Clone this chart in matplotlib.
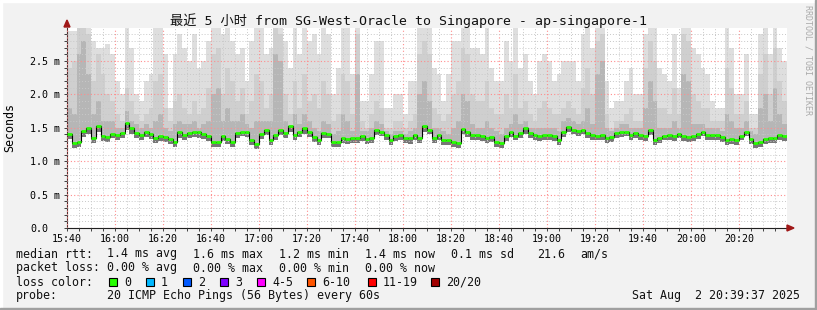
import numpy as np
import matplotlib
matplotlib.use("Agg")
import matplotlib.pyplot as plt
from matplotlib.patches import Rectangle, Polygon

# ---- data (ms), one value per 2-minute step starting 15:40 ----
step_min = 2
median = [1.41, 1.27, 1.28, 1.45, 1.50, 1.34, 1.53, 1.37, 1.36, 1.41,
          1.39, 1.42, 1.57, 1.49, 1.42, 1.39, 1.43, 1.41, 1.34, 1.37,
          1.36, 1.33, 1.29, 1.43, 1.39, 1.42, 1.43, 1.43, 1.40, 1.37,
          1.29, 1.29, 1.37, 1.33, 1.29, 1.42, 1.44, 1.44, 1.32, 1.26,
          1.41, 1.47, 1.32, 1.39, 1.47, 1.42, 1.52, 1.39, 1.43, 1.49,
          1.43, 1.36, 1.32, 1.42, 1.41, 1.29, 1.29, 1.34, 1.33, 1.34,
          1.34, 1.37, 1.33, 1.34, 1.47, 1.44, 1.39, 1.31, 1.37, 1.39,
          1.34, 1.34, 1.39, 1.34, 1.53, 1.47, 1.34, 1.39, 1.32, 1.31,
          1.29, 1.27, 1.48, 1.43, 1.39, 1.39, 1.37, 1.34, 1.36, 1.29,
          1.27, 1.37, 1.43, 1.38, 1.42, 1.49, 1.42, 1.39, 1.37, 1.39,
          1.39, 1.37, 1.32, 1.44, 1.51, 1.47, 1.45, 1.47, 1.42, 1.39,
          1.38, 1.39, 1.34, 1.36, 1.42, 1.43, 1.44, 1.39, 1.42, 1.39,
          1.37, 1.47, 1.32, 1.34, 1.38, 1.39, 1.37, 1.41, 1.37, 1.36,
          1.37, 1.40, 1.44, 1.39, 1.39, 1.39, 1.36, 1.32, 1.33, 1.32,
          1.38, 1.44, 1.33, 1.27, 1.28, 1.33, 1.34, 1.34, 1.39, 1.37]

smoke_lo = [1.33, 1.20, 1.21, 1.36, 1.40, 1.27, 1.44, 1.30, 1.29, 1.34,
            1.32, 1.34, 1.47, 1.41, 1.35, 1.32, 1.36, 1.33, 1.27, 1.30,
            1.29, 1.26, 1.22, 1.35, 1.32, 1.35, 1.36, 1.35, 1.33, 1.30,
            1.21, 1.22, 1.30, 1.26, 1.22, 1.34, 1.37, 1.36, 1.24, 1.19,
            1.33, 1.39, 1.25, 1.32, 1.39, 1.35, 1.44, 1.32, 1.36, 1.41,
            1.36, 1.29, 1.25, 1.34, 1.34, 1.22, 1.21, 1.27, 1.26, 1.27,
            1.27, 1.30, 1.26, 1.27, 1.39, 1.37, 1.32, 1.24, 1.30, 1.32,
            1.27, 1.26, 1.32, 1.27, 1.44, 1.40, 1.27, 1.32, 1.25, 1.24,
            1.22, 1.20, 1.40, 1.36, 1.32, 1.32, 1.30, 1.27, 1.29, 1.21,
            1.20, 1.30, 1.36, 1.31, 1.35, 1.41, 1.35, 1.32, 1.30, 1.32,
            1.32, 1.30, 1.25, 1.36, 1.43, 1.40, 1.38, 1.40, 1.35, 1.32,
            1.31, 1.32, 1.27, 1.29, 1.35, 1.36, 1.37, 1.32, 1.35, 1.32,
            1.30, 1.39, 1.25, 1.27, 1.31, 1.32, 1.30, 1.34, 1.30, 1.29,
            1.30, 1.33, 1.37, 1.32, 1.32, 1.32, 1.29, 1.25, 1.26, 1.25,
            1.31, 1.37, 1.26, 1.20, 1.21, 1.26, 1.27, 1.27, 1.32, 1.30]

smoke_p75 = [1.8, 1.7, 2.6, 2.8, 2.3, 1.7, 1.9, 1.6, 1.6, 1.6,
             1.5, 1.5, 1.75, 1.6, 1.55, 1.5, 1.55, 1.5, 1.6, 1.7,
             1.5, 1.45, 1.55, 1.6, 1.55, 1.55, 1.6, 1.5, 1.55, 1.6,
             2.0, 2.1, 1.6, 1.8, 1.6, 1.6, 1.7, 1.55, 1.5, 1.6,
             1.6, 1.6, 1.6, 2.6, 2.5, 1.6, 1.5, 1.7, 1.55, 1.7,
             1.6, 1.5, 1.45, 1.6, 1.55, 1.4, 1.45, 1.7, 1.6, 1.45,
             2.3, 1.45, 1.45, 1.5, 1.6, 1.55, 1.45, 1.4, 1.45, 1.45,
             1.4, 1.45, 1.5, 2.0, 2.2, 1.9, 1.5, 1.5, 1.45, 1.4,
             1.5, 1.6, 2.0, 1.9, 1.55, 1.5, 1.5, 1.6, 1.5, 1.45,
             1.4, 1.5, 1.55, 1.7, 1.55, 1.6, 1.5, 1.5, 1.5, 1.5,
             1.5, 1.5, 1.45, 1.6, 1.65, 1.6, 1.55, 1.6, 1.8, 1.55,
             2.3, 2.5, 1.5, 1.45, 1.5, 1.55, 1.55, 1.5, 1.5, 1.5,
             1.8, 2.2, 1.9, 1.5, 1.5, 1.5, 1.6, 1.5, 2.3, 2.2,
             1.55, 1.55, 1.55, 1.5, 1.5, 1.5, 1.45, 1.7, 1.6, 1.5,
             1.5, 1.6, 1.45, 1.4, 1.8, 2.0, 1.6, 2.1, 1.7, 1.55]

smoke_p90 = [2.4, 2.5, 3.0, 3.0, 2.9, 2.2, 2.6, 2.3, 2.0, 1.9,
             1.7, 1.6, 2.1, 1.9, 1.7, 1.6, 1.7, 1.8, 2.2, 2.3,
             1.8, 1.6, 1.9, 2.0, 1.8, 1.7, 1.9, 1.7, 1.8, 2.1,
             2.6, 2.7, 2.0, 2.4, 2.2, 1.9, 2.1, 1.7, 1.9, 2.3,
             2.2, 1.8, 2.0, 3.0, 2.9, 2.0, 1.7, 2.2, 1.8, 2.3,
             1.9, 2.0, 1.8, 2.2, 2.0, 1.6, 1.7, 2.3, 2.2, 1.7,
             2.9, 1.6, 1.5, 1.7, 1.9, 1.8, 1.5, 1.5, 1.6, 1.6,
             1.5, 1.6, 1.7, 2.6, 2.8, 2.6, 1.8, 1.7, 1.6, 1.7,
             2.0, 2.2, 2.7, 2.6, 2.0, 1.9, 1.9, 2.2, 1.8, 1.7,
             1.7, 2.0, 1.8, 2.3, 1.8, 1.9, 1.7, 1.6, 1.8, 1.9,
             1.8, 1.7, 1.7, 1.8, 1.9, 1.8, 1.7, 2.1, 2.4, 2.0,
             2.8, 2.9, 1.7, 1.5, 1.6, 1.6, 1.7, 1.8, 1.6, 1.6,
             2.4, 2.8, 2.5, 1.8, 1.8, 1.7, 2.1, 1.7, 2.9, 2.8,
             2.0, 1.9, 1.8, 1.8, 1.6, 1.6, 1.6, 2.4, 2.1, 1.7,
             1.7, 1.9, 1.5, 1.5, 2.3, 2.6, 2.0, 2.7, 2.2, 1.9]

smoke_max = [2.95, 2.95, 3.0, 3.0, 3.0, 2.8, 2.7, 2.7, 2.75, 2.6,
             2.2, 2.0, 3.0, 2.7, 2.0, 1.9, 2.2, 2.3, 3.0, 3.0,
             2.6, 1.8, 2.6, 2.9, 2.7, 2.5, 2.9, 2.4, 2.5, 2.8,
             3.0, 3.0, 2.9, 3.0, 2.8, 2.6, 2.7, 2.2, 2.8, 3.0,
             3.0, 2.6, 2.7, 3.0, 3.0, 2.8, 2.4, 3.0, 2.6, 3.0,
             2.8, 2.9, 2.6, 3.0, 2.9, 2.0, 2.4, 3.0, 3.0, 2.3,
             3.0, 1.9, 1.9, 2.3, 2.8, 2.8, 1.8, 1.8, 2.0, 2.0,
             1.7, 2.2, 2.2, 3.0, 3.0, 3.0, 2.4, 2.3, 1.9, 2.3,
             2.8, 2.8, 3.0, 3.0, 2.7, 2.7, 2.6, 3.0, 2.4, 2.2,
             2.2, 2.8, 2.5, 3.0, 2.4, 2.6, 2.2, 2.0, 2.5, 2.6,
             2.5, 2.2, 2.3, 2.5, 2.5, 2.5, 2.2, 2.9, 3.0, 2.7,
             3.0, 3.0, 2.2, 1.8, 1.9, 1.9, 2.2, 2.4, 2.0, 2.0,
             2.9, 3.0, 3.0, 2.4, 2.3, 2.2, 2.9, 2.1, 3.0, 3.0,
             2.7, 2.6, 2.4, 2.3, 1.9, 1.8, 1.8, 3.0, 2.7, 2.0,
             2.0, 2.6, 1.7, 1.7, 2.9, 3.0, 2.6, 3.0, 2.7, 2.5]

x_labels = ["15:40", "16:00", "16:20", "16:40", "17:00", "17:20", "17:40",
            "18:00", "18:20", "18:40", "19:00", "19:20", "19:40", "20:00", "20:20"]
y_labels = ["0.0", "0.5 m", "1.0 m", "1.5 m", "2.0 m", "2.5 m"]

loss_labels = ["0", "1", "2", "3", "4-5", "6-10", "11-19", "20/20"]
loss_colors = ["#26ff00", "#00b8ff", "#0059ff", "#7e00ff", "#ff00ff",
               "#ff5500", "#ff0000", "#a10000"]

W, H = 817, 310
mono = "DejaVu Sans Mono"
plt.rcParams["font.family"] = [mono, "Noto Sans CJK SC"]
fs = 8.4
tick_fs = 7.2

fig = plt.figure(figsize=(W / 100, H / 100), dpi=100, facecolor="#f2f2f2")
ax = fig.add_axes([67 / W, 82 / H, 720 / W, 200.4 / H])
ax.set_facecolor("white")

n = len(median)
t = np.arange(n + 1) * step_min


def ext(a):
    return np.append(a, a[-1])


lo = ext(smoke_lo)
ax.fill_between(t, lo, np.minimum(ext(smoke_max), 3.0), step="post", color="#dedede", lw=0, zorder=1)
ax.fill_between(t, lo, np.minimum(ext(smoke_p90), 3.0), step="post", color="#cfcfcf", lw=0, zorder=1)
ax.fill_between(t, lo, ext(smoke_p75), step="post", color="#b6b6b6", lw=0, zorder=1)
ax.fill_between(t, lo, ext(median), step="post", color="#767676", lw=0, zorder=1)

ax.step(t, ext(median), where="post", color="black", lw=0.8, zorder=3)
ax.hlines(median, t[:-1], t[1:], colors=loss_colors[0], lw=2.0, zorder=4)

ax.set_xlim(0, 300)
ax.set_ylim(0, 3.0)
ax.set_xticks(np.arange(len(x_labels)) * 20)
ax.set_xticklabels(x_labels)
ax.set_xticks(np.arange(0, 300, 5), minor=True)
ax.set_yticks(np.arange(len(y_labels)) * 0.5)
ax.set_yticklabels(y_labels, ha="left")
ax.set_yticks(np.arange(0, 3.0, 0.1), minor=True)

ax.set_axisbelow(False)
ax.grid(which="minor", color="#c8c8c8", ls=(0, (1, 2)), lw=0.7)
ax.grid(which="major", color="#ff8c8c", ls=(0, (1, 2)), lw=0.8)
ax.tick_params(which="both", length=2, width=0.7, color="#404040",
               labelsize=tick_fs, pad=2.5)
ax.tick_params(axis="y", which="major", pad=24.6)
for sp in ["top", "right"]:
    ax.spines[sp].set_visible(False)
ax.spines["left"].set_color("#503030")
ax.spines["bottom"].set_color("#202020")

# axis arrows
fig.patches.append(Polygon([[64 / W, 1 - 27 / H], [70 / W, 1 - 27 / H], [67 / W, 1 - 20 / H]],
                           closed=True, color="#a01818", transform=fig.transFigure))
fig.patches.append(Polygon([[787 / W, 1 - 225 / H], [787 / W, 1 - 231 / H], [794 / W, 1 - 228 / H]],
                           closed=True, color="#a01818", transform=fig.transFigure))

fig.text(408 / W, 1 - 21 / H, "最近 5 小时 from SG-West-Oracle to Singapore - ap-singapore-1",
         ha="center", va="center", fontsize=9.5, color="#111111")
fig.text(10 / W, 1 - 127 / H, "Seconds", rotation=90, ha="center", va="center", fontsize=fs)
fig.text(808 / W, 1 - 60 / H, "RRDTOOL / TOBI OETIKER", rotation=270, ha="center", va="center",
         fontsize=6, color="#aaaaaa")


def ftext(x, y, s, **kw):
    fig.text(x / W, 1 - y / H, s, va="center", fontsize=fs, color="#111111", **kw)


ftext(16, 254, "median rtt:")
for x, s in zip([107, 193, 279, 365, 451, 537, 580],
                ["1.4 ms avg", "1.6 ms max", "1.2 ms min", "1.4 ms now", "0.1 ms sd", "21.6", "am/s"]):
    ftext(x, 254, s)
ftext(16, 268, "packet loss:")
for x, s in zip([107, 193, 279, 365],
                ["0.00 % avg", "0.00 % max", "0.00 % min", "0.00 % now"]):
    ftext(x, 268, s)
ftext(16, 282, "loss color:")
box_x = [109, 146, 183, 220, 257, 307, 368, 431]
for bx, lab, c in zip(box_x, loss_labels, loss_colors):
    fig.patches.append(Rectangle((bx / W, 1 - 286 / H), 8 / W, 8 / H, facecolor=c,
                                 edgecolor="black", lw=0.8, transform=fig.transFigure))
    ftext(bx + 15, 282, lab)
ftext(16, 296, "probe:")
ftext(107, 296, "20 ICMP Echo Pings (56 Bytes) every 60s")
ftext(800, 296, "Sat Aug  2 20:39:37 2025", ha="right")

# 3d-ish frame
fig.patches.append(Rectangle((0, 1 - 2 / H), 1, 2 / H, color="#ffffff", transform=fig.transFigure))
fig.patches.append(Rectangle((0, 0), 2 / W, 1, color="#ffffff", transform=fig.transFigure))
fig.patches.append(Rectangle((0, 0), 1, 2 / H, color="#a0a0a0", transform=fig.transFigure))
fig.patches.append(Rectangle((1 - 2 / W, 0), 2 / W, 1, color="#a0a0a0", transform=fig.transFigure))

fig.savefig("out.png", dpi=100, facecolor=fig.get_facecolor())
